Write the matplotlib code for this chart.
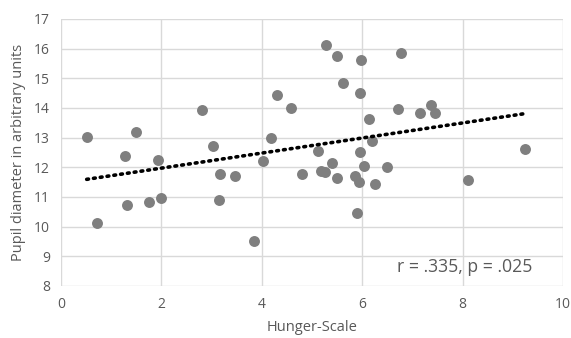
import numpy as np
import matplotlib.pyplot as plt

# hunger scale vs pupil diameter
hunger = [0.51, 0.71, 1.27, 1.31, 1.49, 1.76, 1.94, 2.00, 2.80, 3.03,
          3.16, 3.14, 3.47, 3.85, 4.03, 4.18, 4.30, 4.58, 4.80, 5.28,
          5.49, 5.98, 6.77, 5.62, 5.95, 6.71, 7.15, 7.36, 7.44, 6.13,
          6.19, 5.12, 5.95, 5.39, 5.18, 5.25, 5.49, 6.03, 6.49, 5.86,
          5.93, 6.25, 5.90, 8.11, 9.24]
pupil = [13.03, 10.11, 12.38, 10.74, 13.18, 10.84, 12.25, 10.96, 13.94, 12.71,
         11.79, 10.90, 11.71, 9.51, 12.21, 12.97, 14.45, 14.01, 11.79, 16.12,
         15.76, 15.62, 15.84, 14.83, 14.50, 13.98, 13.84, 14.11, 13.84, 13.62,
         12.88, 12.55, 12.52, 12.14, 11.89, 11.83, 11.65, 12.04, 12.00, 11.72,
         11.51, 11.42, 10.47, 11.56, 12.61]
stats_label = "r = .335, p = .025"

txt = "#595959"
plt.rcParams['font.family'] = ['Open Sans', 'DejaVu Sans']

fig = plt.figure(figsize=(5.71, 3.38), dpi=100)
ax = fig.add_axes([0.107, 0.154, 0.879, 0.79])

ax.scatter(hunger, pupil, s=62, color="#7f7f7f", zorder=3, linewidths=0)

# linear trendline over the data range
x = np.array(hunger)
slope, icept = np.polyfit(x, np.array(pupil), 1)
xs = np.array([x.min(), x.max()])
ax.plot(xs, slope * xs + icept, color="black", lw=2.6,
        linestyle=(0, (0.5, 1.4)), dash_capstyle="round", zorder=4)

ax.set_xlim(0, 10)
ax.set_ylim(8, 17)
ax.set_xticks(range(0, 11, 2))
ax.set_yticks(range(8, 18))
ax.grid(True, color="#d9d9d9", lw=1)
ax.set_axisbelow(True)
for s in ax.spines.values():
    s.set_visible(False)
ax.tick_params(length=0, labelsize=10, colors=txt, pad=8)

ax.set_xlabel("Hunger-Scale", fontsize=10.5, color=txt, labelpad=6)
ax.set_ylabel("Pupil diameter in arbitrary units", fontsize=10.5, color=txt, labelpad=6)

ax.text(0.938, 0.07, stats_label, transform=ax.transAxes, ha="right",
        va="center", fontsize=12.7, color=txt)

fig.savefig("out.png", dpi=100)
